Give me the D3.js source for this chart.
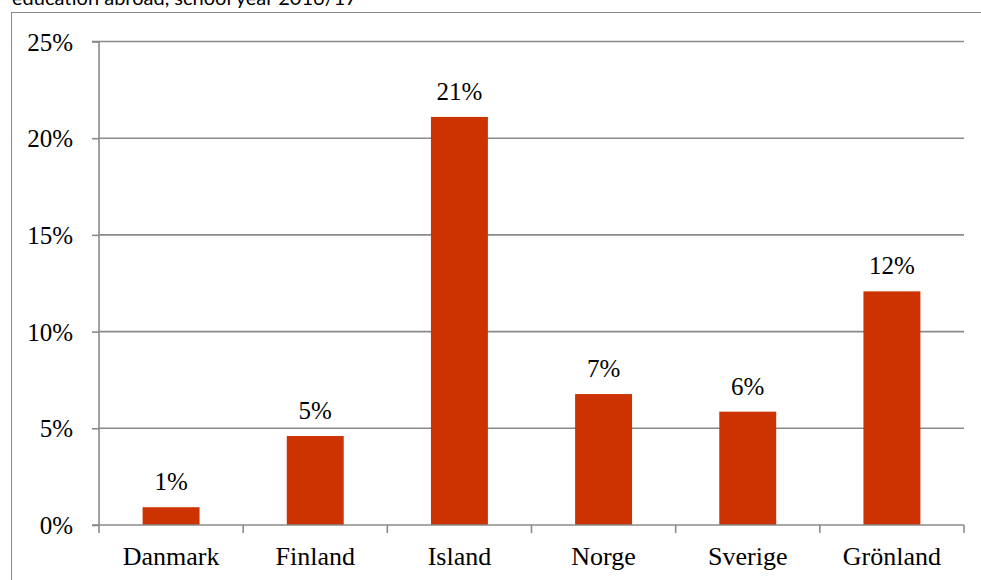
<!DOCTYPE html>
<html><head><meta charset="utf-8">
<script src="https://cdn.jsdelivr.net/npm/d3@7"></script>
<style>body{margin:0;background:#fff}svg{display:block}
svg text{font-family:"Liberation Serif";}
svg text.ttl{font-family:"Lato";}
</style>
</head><body>
<svg id="c" width="981" height="580"></svg>
<script>
const categories = ["Danmark","Finland","Island","Norge","Sverige","Grönland"];
const values = [0.0092, 0.046, 0.211, 0.0677, 0.0586, 0.1208];
const dataLabels = ["1%","5%","21%","7%","6%","12%"];
const yTicks = [0, 0.05, 0.10, 0.15, 0.20, 0.25];
const titleText = "education abroad, school year 2016/17";

(function(){
const svg = d3.select("#c");
const W = 981, H = 580;
const pLeft = 99, pRight = 964, pTop = 41.5, pBottom = 525;
const SERIF = '"Liberation Serif"';

// frame
svg.append("rect").attr("x",11.5).attr("y",12.5).attr("width",W).attr("height",H)
  .attr("fill","#fff").attr("stroke","#888").attr("stroke-width",1);

// cut-off title
svg.append("text").attr("class","ttl").attr("x",12).attr("y",5).text(titleText)
  .style("font-family",'"Lato"').style("font-size","20px").attr("fill","#000");

const x = d3.scaleBand().domain(categories).range([pLeft,pRight]).padding(0);
const y = d3.scaleLinear().domain([0,0.25]).range([pBottom,pTop]);

// gridlines
svg.append("g").selectAll("line").data(yTicks.slice(1)).join("line")
  .attr("x1",pLeft).attr("x2",pRight).attr("y1",d=>y(d)).attr("y2",d=>y(d))
  .attr("stroke","#8a8a8a").attr("stroke-width",1.6);

// bars
const bw = x.bandwidth()*0.395;
svg.append("g").selectAll("rect").data(categories).join("rect")
  .attr("x",d=>x(d)+x.bandwidth()/2-bw/2)
  .attr("width",bw)
  .attr("y",(d,i)=>y(values[i]))
  .attr("height",(d,i)=>pBottom-y(values[i]))
  .attr("fill","#CC3300");

// y axis
const yAxis = d3.axisLeft(y).tickValues(yTicks).tickFormat(d3.format(".0%")).tickSize(7).tickPadding(19);
const gy = svg.append("g").attr("transform",`translate(${pLeft},0)`).call(yAxis)
  .attr("font-family",SERIF).attr("font-size",25);
gy.select(".domain").attr("stroke","#8a8a8a").attr("stroke-width",1.6).attr("d",`M-7,${pTop}H0V${pBottom}H-7`);
gy.selectAll(".tick line").attr("stroke","#8a8a8a").attr("stroke-width",1.6);
gy.selectAll(".tick text").attr("font-family",SERIF).style("font-family",SERIF).style("font-size","25px").attr("fill","#000").attr("dy","0.34em");

// x axis
const xAxis = d3.axisBottom(x).tickSize(0).tickPadding(0);
const gx = svg.append("g").attr("transform",`translate(0,${pBottom})`).call(xAxis)
  .attr("font-family",SERIF).attr("font-size",26);
gx.select(".domain").attr("stroke","#8a8a8a").attr("stroke-width",1.6).attr("d",`M${pLeft},0H${pRight}`);
gx.selectAll(".tick text").attr("font-family",SERIF).style("font-family",SERIF).style("font-size","26px").attr("fill","#000").attr("dy",null).attr("y",40);
// category separator ticks
const bounds = categories.map(c=>x(c)).concat([pRight]);
svg.append("g").selectAll("line").data(bounds).join("line")
  .attr("x1",d=>d).attr("x2",d=>d).attr("y1",pBottom).attr("y2",pBottom+8)
  .attr("stroke","#8a8a8a").attr("stroke-width",1.6);

// data labels
svg.append("g").attr("font-family",SERIF).selectAll("text").data(categories).join("text")
  .attr("font-family",SERIF).style("font-family",SERIF).style("font-size","25px")
  .attr("x",d=>x(d)+x.bandwidth()/2)
  .attr("y",(d,i)=>y(values[i])-17)
  .attr("text-anchor","middle")
  .attr("fill","#000")
  .text((d,i)=>dataLabels[i]);
})();
</script>
</body></html>
